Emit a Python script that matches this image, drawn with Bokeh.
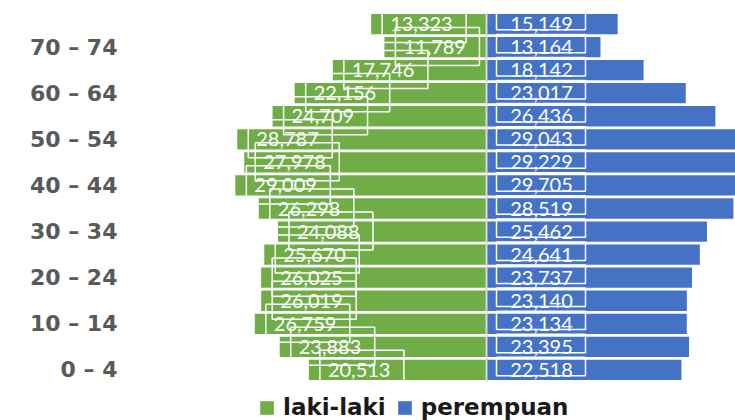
from bokeh.plotting import figure
from bokeh.models import FixedTicker, Legend, LegendItem, ColumnDataSource
from bokeh.core.properties import value
from bokeh.embed import file_html
from bokeh.resources import INLINE

age_groups = ["0 – 4", "5 – 9", "10 – 14", "15 – 19", "20 – 24", "25 – 29", "30 – 34",
              "35 – 39", "40 – 44", "45 – 49", "50 – 54", "55 – 59", "60 – 64",
              "65 – 69", "70 – 74", "75+"]
laki = [20513, 23883, 26759, 26019, 26025, 25670, 24088, 26298, 29009, 27978,
        28787, 24709, 22156, 17746, 11789, 13323]
perempuan = [22518, 23395, 23134, 23140, 23737, 24641, 25462, 28519, 29705, 29229,
             29043, 26436, 23017, 18142, 13164, 15149]
tick_rows = [0, 2, 4, 6, 8, 10, 12, 14]

GREEN = "#70AD47"
BLUE = "#4472C4"

W, H = 735, 420
BL, BR, BT, BB = 125, 0, 12, 0
frame_w = W - BL - BR
frame_h = H - BT - BB
row_px = 23.06
n = len(age_groups)
y_top = n - 0.5
y_bot = y_top - frame_h / row_px
upp = 115.5  # data units per pixel
zero_px = 361
x0 = -zero_px * upp
x1 = (frame_w - zero_px) * upp

p = figure(width=W, height=H, x_range=(x0, x1), y_range=(y_bot, y_top),
           output_backend="svg", toolbar_location=None,
           min_border_left=BL, min_border_right=BR, min_border_top=BT, min_border_bottom=BB)
p.outline_line_color = None
p.xgrid.visible = False
p.ygrid.visible = False
p.xaxis.visible = False
p.background_fill_color = "white"
p.border_fill_color = "white"

ys = list(range(n))
neg_laki = [-v for v in laki]
src = ColumnDataSource(dict(y=ys, m=neg_laki, f=perempuan,
                            mlab=[f"{v:,}" for v in laki],
                            flab=[f"{v:,}" for v in perempuan]))

r_m = p.hbar(y="y", left="m", right=0, height=0.88, source=src,
             fill_color=GREEN, line_color=None)
r_f = p.hbar(y="y", left=0, right="f", height=0.88, source=src,
             fill_color=BLUE, line_color=None)

# label boxes (white outlines as in the original rendering)
p.quad(left=[v + 11 * upp for v in neg_laki], right=[v + 95 * upp for v in neg_laki],
       top=[y + 0.85 for y in ys], bottom=[max(y - 0.8, -0.6) for y in ys],
       fill_color=None, line_color="white", line_width=1.5)
p.quad(left=[10 * upp] * n, right=[99 * upp] * n,
       top=[y + 0.55 for y in ys], bottom=[y - 0.25 for y in ys],
       fill_color=None, line_color="white", line_width=1.5)

# central axis line
p.segment(x0=[0], y0=[-0.5], x1=[0], y1=[y_top], line_color="#d9d9d9", line_width=2)

p.text(x="m", y="y", text="mlab", source=src, x_offset=19, text_align="left",
       text_baseline="middle", text_color="white", text_font=value("Lato"),
       text_font_size="20px")
p.text(x=55 * upp, y="y", text="flab", source=src, text_align="center",
       text_baseline="middle", text_color="white", text_font=value("Lato"),
       text_font_size="20px")

ya = p.yaxis[0]
ya.ticker = FixedTicker(ticks=tick_rows)
ya.major_label_overrides = {i: age_groups[i] for i in tick_rows}
ya.axis_line_color = None
ya.major_tick_line_color = None
ya.minor_tick_line_color = None
ya.major_tick_out = 0
ya.major_tick_in = 0
ya.major_label_standoff = 8
ya.major_label_text_font = "DejaVu Sans"
ya.major_label_text_font_style = "bold"
ya.major_label_text_font_size = "22px"
ya.major_label_text_color = "#595959"

legend = Legend(items=[LegendItem(label="laki-laki", renderers=[r_m]),
                       LegendItem(label="perempuan", renderers=[r_f])],
                orientation="horizontal", location=(133, 0),
                label_text_font="DejaVu Sans", label_text_font_style="bold",
                label_text_font_size="23px", label_text_color="#1a1a1a",
                glyph_width=17, glyph_height=17, spacing=10, padding=0, margin=0,
                label_standoff=8, border_line_color=None, background_fill_alpha=0)
p.add_layout(legend, "center")

open("out.html", "w").write(file_html(p, INLINE))
